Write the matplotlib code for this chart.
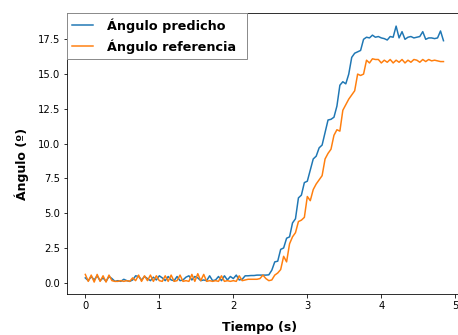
import numpy as np
import matplotlib
matplotlib.use("Agg")
import matplotlib.pyplot as plt

# sample times (s), one every 0.04 s
tiempo = np.arange(122) * 0.04

angulo_predicho = [
    0.35, 0.15, 0.45, 0.2, 0.5, 0.15, 0.35, 0.1, 0.45, 0.3,
    0.1, 0.15, 0.1, 0.25, 0.15, 0.1, 0.2, 0.5, 0.45, 0.2,
    0.45, 0.3, 0.15, 0.4, 0.2, 0.5, 0.35, 0.15, 0.45, 0.2,
    0.15, 0.45, 0.15, 0.2, 0.4, 0.5, 0.2, 0.45, 0.35, 0.15,
    0.2, 0.15, 0.5, 0.15, 0.2, 0.45, 0.15, 0.5, 0.2, 0.45,
    0.3, 0.55, 0.2, 0.25, 0.5, 0.5, 0.52, 0.52, 0.55, 0.55,
    0.55, 0.55, 0.57, 0.9, 1.5, 1.55, 2.4, 2.5, 3.2, 3.3,
    4.3, 4.6, 6.1, 6.3, 7.2, 7.3, 8.1, 8.9, 9.1, 9.7,
    9.9, 10.8, 11.7, 11.75, 11.9, 12.7, 14.2, 14.45, 14.3, 15.0,
    16.2, 16.5, 16.6, 16.7, 17.5, 17.65, 17.6, 17.8, 17.65, 17.7,
    17.6, 17.55, 17.45, 17.7, 17.65, 18.45, 17.6, 18.05, 17.5, 17.65,
    17.7, 17.6, 17.65, 17.7, 18.05, 17.5, 17.6, 17.6, 17.55, 17.6,
    18.1, 17.4,
]

angulo_referencia = [
    0.6, 0.1, 0.55, 0.05, 0.6, 0.1, 0.5, 0.05, 0.55, 0.15,
    0.1, 0.1, 0.15, 0.1, 0.15, 0.1, 0.35, 0.15, 0.55, 0.1,
    0.5, 0.15, 0.55, 0.1, 0.5, 0.15, 0.1, 0.5, 0.1, 0.55,
    0.1, 0.15, 0.55, 0.1, 0.15, 0.1, 0.6, 0.1, 0.65, 0.15,
    0.6, 0.1, 0.15, 0.1, 0.15, 0.1, 0.5, 0.1, 0.15, 0.1,
    0.15, 0.1, 0.5, 0.15, 0.2, 0.25, 0.25, 0.25, 0.25, 0.3,
    0.55, 0.3, 0.15, 0.2, 0.55, 0.7, 0.95, 1.9, 1.5, 2.8,
    3.3, 3.6, 4.4, 4.5, 4.7, 6.2, 5.9, 6.7, 7.1, 7.4,
    7.7, 8.9, 9.3, 9.6, 10.6, 11.0, 10.9, 12.4, 12.8, 13.2,
    13.5, 13.8, 15.0, 14.9, 15.0, 16.0, 15.8, 16.1, 16.05, 16.05,
    15.8, 16.0, 15.85, 16.05, 15.8, 16.0, 15.85, 16.05, 15.8, 16.0,
    15.85, 16.05, 16.0, 15.85, 16.05, 15.9, 16.05, 15.95, 16.0, 15.95,
    15.9, 15.9,
]

fig = plt.figure(figsize=(458 / 72, 335 / 72), dpi=72)
ax = fig.add_axes([0.147, 0.1215, 0.8633, 0.8388])

ax.plot(tiempo, angulo_predicho, color="tab:blue", linewidth=1.5, label="Ángulo predicho")
ax.plot(tiempo, angulo_referencia, color="tab:orange", linewidth=1.5, label="Ángulo referencia")

ax.set_xlim(-0.243, 5.1)
ax.set_ylim(-0.83, 19.37)
ax.set_yticks(np.arange(0, 17.6, 2.5))
ax.set_xticks([0, 1, 2, 3, 4, 5])
ax.tick_params(labelsize=10)
ax.spines["right"].set_visible(False)

ax.set_xlabel("Tiempo (s)", fontsize=12.5, fontweight="bold", labelpad=10)
ax.set_ylabel("Ángulo (º)", fontsize=12.5, fontweight="bold", labelpad=9)
ax.xaxis.label.set_x(0.485)
ax.yaxis.label.set_y(0.464)

leg = ax.legend(loc="upper left", bbox_to_anchor=(0, 1, 0.455, 0), mode="expand",
                borderaxespad=0, fancybox=False,
                prop={"size": 12.7, "weight": "bold"},
                handlelength=1.64, handletextpad=1.1, framealpha=1)
leg.get_frame().set_edgecolor("0.55")

fig.savefig("out.png", dpi=72)
